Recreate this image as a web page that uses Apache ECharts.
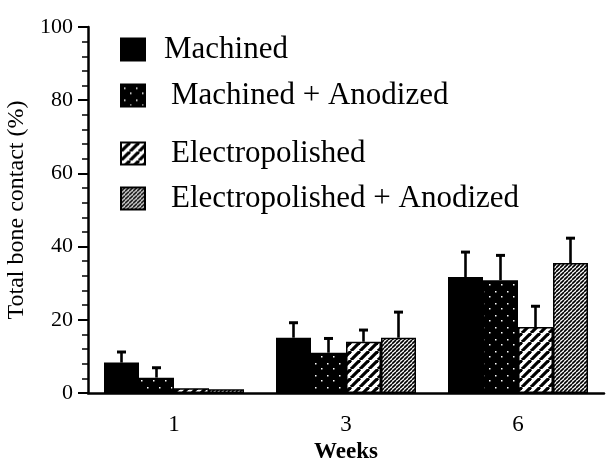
<!DOCTYPE html>
<html>
<head>
<meta charset="utf-8">
<script src="https://cdn.jsdelivr.net/npm/echarts@6/dist/echarts.min.js"></script>
<style>
html,body{margin:0;padding:0;background:#fff;}
#chart{width:606px;height:461px;}
</style>
</head>
<body>
<div id="chart"></div>
<script>
// ---- data ----
const weeks = ['1', '3', '6'];
const seriesNames = ['Machined', 'Machined + Anodized', 'Electropolished', 'Electropolished + Anodized'];
const machined = [8.3, 15.1, 31.7];
const machinedAnodized = [4.2, 11.0, 30.8];
const electropolished = [1.3, 14.0, 18.0];
const electropolishedAnodized = [1.0, 15.1, 35.5];
const machinedErr = [2.9, 4.1, 6.8];
const machinedAnodizedErr = [2.7, 3.9, 6.8];
const electropolishedErr = [0, 3.2, 5.7];
const electropolishedAnodizedErr = [0, 7.0, 6.8];
const yTicks = [0, 20, 40, 60, 80, 100];

const values = [machined, machinedAnodized, electropolished, electropolishedAnodized];
const errors = [machinedErr, machinedAnodizedErr, electropolishedErr, electropolishedAnodizedErr];

// ---- patterns ----
function makeCanvas(s) { const c = document.createElement('canvas'); c.width = s; c.height = s; return c; }
function dotsPattern() {
  const c = makeCanvas(12), g = c.getContext('2d');
  g.fillStyle = '#000'; g.fillRect(0, 0, 12, 12);
  g.fillStyle = '#fff';
  g.fillRect(3, 3, 1.5, 1.5); g.fillRect(9, 8, 1.5, 1.5);
  return c;
}
function hatchPattern(s, w) {
  const c = makeCanvas(s), g = c.getContext('2d');
  g.fillStyle = '#fff'; g.fillRect(0, 0, s, s);
  g.strokeStyle = '#000'; g.lineWidth = w;
  for (let k = -1; k <= 1; k++) {
    g.beginPath(); g.moveTo(k * s, s); g.lineTo(k * s + s, 0); g.stroke();
  }
  return c;
}
const fills = [
  '#000',
  { image: dotsPattern(), repeat: 'repeat' },
  { image: hatchPattern(9, 3.2), repeat: 'repeat' },
  { image: hatchPattern(4, 1.6), repeat: 'repeat' }
];

const BAR_W = 35;
const FONT = 'Liberation Serif';

const barSeries = seriesNames.map((name, i) => ({
  name: name,
  type: 'bar',
  data: values[i],
  barWidth: BAR_W,
  barGap: '0%',
  itemStyle: { color: fills[i], borderColor: '#000', borderWidth: 1.5 },
  silent: true
}));

const errData = [];
errors.forEach((arr, si) => arr.forEach((e, ci) => errData.push([ci, values[si][ci], e, si])));

const errSeries = {
  type: 'custom',
  data: errData,
  silent: true,
  z: 1,
  renderItem: function (params, api) {
    const ci = api.value(0), v = api.value(1), e = api.value(2), si = api.value(3);
    if (!e) return null;
    const base = api.coord([ci, v]);
    const top = api.coord([ci, v + e]);
    const x = base[0] + (si - 1.5) * BAR_W;
    const st = { stroke: '#000', lineWidth: 2.6 };
    return {
      type: 'group',
      children: [
        { type: 'line', shape: { x1: x, y1: base[1], x2: x, y2: top[1] }, style: st },
        { type: 'line', shape: { x1: x - 4.5, y1: top[1], x2: x + 4.5, y2: top[1] }, style: { stroke: '#000', lineWidth: 3 } }
      ]
    };
  }
};

const legendTops = [34, 80, 138, 183];
const legendPad = [14, 21, 21, 21];
const legends = seriesNames.map((n, i) => ({
  data: [n],
  orient: 'vertical',
  left: 120,
  top: legendTops[i],
  padding: 0,
  itemWidth: 24,
  itemHeight: 22,
  icon: 'rect',
  selectedMode: false,
  textStyle: { fontFamily: FONT, fontSize: 31, color: '#000', padding: [0, 0, 0, legendPad[i]] }
}));

const chart = echarts.init(document.getElementById('chart'), null, { renderer: 'canvas' });
chart.setOption({
  animation: false,
  backgroundColor: '#fff',
  grid: { left: 88, right: 2, top: 27, bottom: 68, containLabel: false, outerBoundsMode: 'none' },
  legend: legends,
  xAxis: {
    type: 'category',
    data: weeks,
    name: 'Weeks',
    nameLocation: 'middle',
    nameGap: 47,
    nameTextStyle: { fontFamily: FONT, fontSize: 23, fontWeight: 'bold', color: '#000' },
    axisLine: { lineStyle: { color: '#000', width: 2.5 } },
    axisTick: { length: 11, lineStyle: { color: '#000', width: 2 } },
    axisLabel: { fontFamily: FONT, fontSize: 23, color: '#000', margin: 20 }
  },
  yAxis: {
    type: 'value',
    min: yTicks[0],
    max: yTicks[yTicks.length - 1],
    interval: yTicks[1] - yTicks[0],
    name: 'Total bone contact (%)',
    nameLocation: 'middle',
    nameGap: 58,
    nameTextStyle: { fontFamily: FONT, fontSize: 24, color: '#000' },
    axisLine: { show: true, lineStyle: { color: '#000', width: 2.5 } },
    axisTick: { show: true, length: 10, lineStyle: { color: '#000', width: 2 } },
    minorTick: { show: true, splitNumber: 5, length: 6, lineStyle: { color: '#000', width: 1.5 } },
    splitLine: { show: false },
    axisLabel: { fontFamily: FONT, fontSize: 22, color: '#000', margin: 15 }
  },
  series: barSeries.concat([errSeries])
});
</script>
</body>
</html>
